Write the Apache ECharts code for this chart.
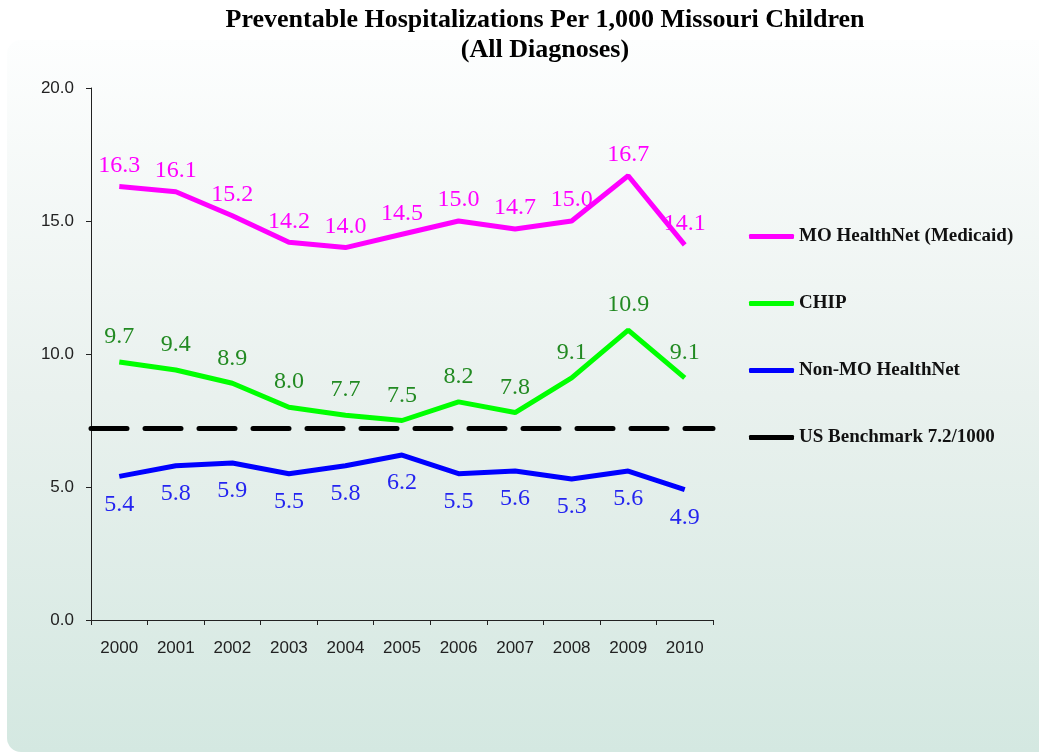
<!DOCTYPE html>
<html>
<head>
<meta charset="utf-8">
<script src="https://cdn.jsdelivr.net/npm/echarts@6/dist/echarts.min.js"></script>
<style>
  html, body { margin: 0; padding: 0; background: #ffffff; }
  #chart { width: 1039px; height: 753px; }
</style>
</head>
<body>
<div id="chart"></div>
<script>
// Preventable hospitalizations per 1,000 Missouri children, all diagnoses
const years = ['2000', '2001', '2002', '2003', '2004', '2005', '2006', '2007', '2008', '2009', '2010'];
const medicaid = [16.3, 16.1, 15.2, 14.2, 14.0, 14.5, 15.0, 14.7, 15.0, 16.7, 14.1];
const chip = [9.7, 9.4, 8.9, 8.0, 7.7, 7.5, 8.2, 7.8, 9.1, 10.9, 9.1];
const nonMedicaid = [5.4, 5.8, 5.9, 5.5, 5.8, 6.2, 5.5, 5.6, 5.3, 5.6, 4.9];
const benchmark = 7.2;

const seriesNames = ['MO HealthNet (Medicaid)', 'CHIP', 'Non-MO HealthNet', 'US Benchmark 7.2/1000'];

const serif = '"Liberation Serif", "Times New Roman", serif';
const sans = '"Liberation Sans", Arial, sans-serif';

function valueLabel(color, position, distance) {
  return {
    show: true,
    position: position,
    distance: distance,
    color: color,
    fontFamily: serif,
    fontSize: 24,
    formatter: p => Number(p.value).toFixed(1)
  };
}

function lineSeries(name, values, lineColor, label) {
  return {
    name: name,
    type: 'line',
    data: values,
    symbol: 'circle',
    symbolSize: 0,
    showSymbol: true,
    color: lineColor,
    itemStyle: { color: lineColor },
    lineStyle: { color: lineColor, width: 5 },
    label: label,
    z: 3
  };
}

const chart = echarts.init(document.getElementById('chart'), null, { renderer: 'canvas' });

chart.setOption({
  backgroundColor: '#ffffff',
  animation: false,
  graphic: [{
    type: 'rect',
    z: -10,
    silent: true,
    shape: { x: 7, y: 40, width: 1060, height: 712, r: 14 },
    style: {
      fill: new echarts.graphic.LinearGradient(0, 0, 0, 1, [
        { offset: 0, color: '#fdfefe' },
        { offset: 0.5, color: '#e9f1ee' },
        { offset: 1, color: '#d4e8e1' }
      ])
    }
  }],
  title: {
    text: 'Preventable Hospitalizations Per 1,000 Missouri Children\n(All Diagnoses)',
    left: 540,
    top: 0,
    textAlign: 'center',
    textStyle: {
      fontFamily: serif,
      fontWeight: 'bold',
      fontSize: 26,
      lineHeight: 30,
      color: '#000000'
    }
  },
  legend: {
    orient: 'vertical',
    left: 744,
    top: 222,
    icon: 'roundRect',
    itemWidth: 45,
    itemHeight: 5,
    itemGap: 48,
    data: seriesNames,
    textStyle: {
      fontFamily: serif,
      fontWeight: 'bold',
      fontSize: 19,
      color: '#111111'
    }
  },
  grid: { left: 91, right: 326, top: 88, bottom: 133 },
  xAxis: {
    type: 'category',
    data: years,
    boundaryGap: true,
    axisLine: { lineStyle: { color: '#222222', width: 1 } },
    axisTick: { show: true, length: 5, lineStyle: { color: '#222222' } },
    axisLabel: { color: '#222222', fontFamily: sans, fontSize: 17, margin: 20 },
    splitLine: { show: false }
  },
  yAxis: {
    type: 'value',
    min: 0,
    max: 20,
    interval: 5,
    axisLine: { show: true, lineStyle: { color: '#222222', width: 1 } },
    axisTick: { show: true, length: 5, lineStyle: { color: '#222222' } },
    axisLabel: { color: '#222222', fontFamily: sans, fontSize: 17, margin: 17, formatter: v => v.toFixed(1) },
    splitLine: { show: false }
  },
  series: [
    lineSeries(seriesNames[0], medicaid, '#ff00ff', valueLabel('#ff00ff', 'top', 9)),
    lineSeries(seriesNames[1], chip, '#00ff00', valueLabel('#228a22', 'top', 13)),
    lineSeries(seriesNames[2], nonMedicaid, '#0000ff', valueLabel('#2424f0', 'bottom', 16)),
    {
      name: seriesNames[3],
      type: 'line',
      data: [],
      symbol: 'none',
      color: '#000000',
      itemStyle: { color: '#000000' },
      lineStyle: { color: '#000000', width: 5 },
      markLine: {
        silent: true,
        symbol: ['none', 'none'],
        label: { show: false },
        lineStyle: { color: '#000000', width: 5, type: [36, 18], cap: 'round' },
        data: [{ yAxis: benchmark }]
      },
      z: 2
    }
  ]
});
</script>
</body>
</html>
